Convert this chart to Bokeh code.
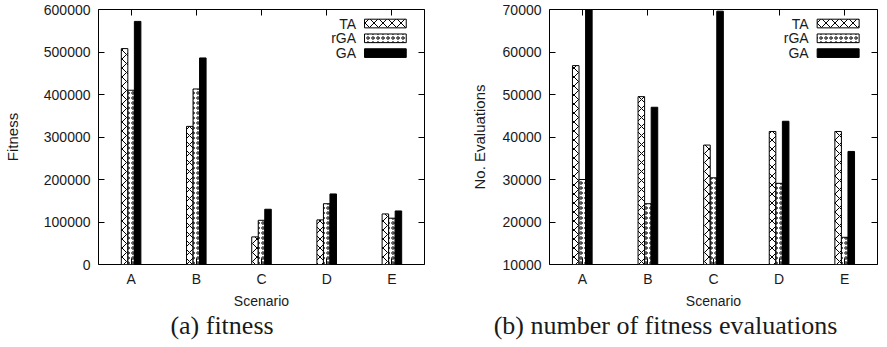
from bokeh.plotting import figure
from bokeh.layouts import row, column
from bokeh.models import (FixedTicker, BasicTickFormatter, LinearAxis, Range1d,
                          BoxAnnotation, Label)
from bokeh.core.properties import value
from bokeh.embed import file_html
from bokeh.resources import INLINE

# Scenarios and algorithms
scenarios = ["A", "B", "C", "D", "E"]
algorithms = ["TA", "rGA", "GA"]

# (a) best fitness reached per scenario
fitness_ta = [508000, 325000, 65000, 105000, 119000]
fitness_rga = [410000, 413000, 104000, 143000, 109000]
fitness_ga = [572000, 486000, 130000, 166000, 126000]

# (b) number of fitness evaluations per scenario
evals_ta = [56800, 49500, 38100, 41300, 41300]
evals_rga = [30000, 24300, 30400, 29100, 16400]
evals_ga = [75000, 47000, 69600, 43700, 36600]

fitness_ticks = [0, 100000, 200000, 300000, 400000, 500000, 600000]
evals_ticks = [10000, 20000, 30000, 40000, 50000, 60000, 70000]

captions = ["(a) fitness", "(b) number of fitness evaluations"]

SANS = "Liberation Sans"
SERIF = "Liberation Serif"
INK = "#1a1a1a"

PLOT_H = 311
CAPTION_H = 36

styles = {
    "TA": dict(fill_color="white", hatch_pattern="diagonal_cross", hatch_color="black",
               hatch_scale=9, hatch_weight=1),
    "rGA": dict(fill_color="white", hatch_pattern="ring", hatch_color="black",
                hatch_scale=5, hatch_weight=1),
    "GA": dict(fill_color="black", hatch_pattern=None),
}


def mirror_axis(ticks):
    # tick marks only, pointing into the frame
    return LinearAxis(ticker=FixedTicker(ticks=ticks),
                      major_label_overrides={t: "" for t in ticks},
                      major_tick_in=6, major_tick_out=0, minor_tick_in=0, minor_tick_out=0,
                      axis_line_color=None, major_label_standoff=0)


def panel(series, ymin, ymax, ticks, ylabel, width, left, right, ylabel_standoff):
    p = figure(width=width, height=PLOT_H, output_backend="svg", toolbar_location=None,
               x_range=Range1d(0.5, len(scenarios) + 0.5), y_range=Range1d(ymin, ymax),
               min_border_left=left, min_border_right=right,
               min_border_top=9, min_border_bottom=47)
    p.xgrid.visible = False
    p.ygrid.visible = False
    p.outline_line_color = "black"
    p.outline_line_width = 1
    p.background_fill_color = "white"
    p.border_fill_color = "white"

    xs = list(range(1, len(scenarios) + 1))
    bw = 0.1
    for k, (name, vals) in enumerate(zip(algorithms, series)):
        off = (k - 1) * bw
        p.vbar(x=[x + off for x in xs], top=vals, bottom=ymin, width=bw,
               line_color="black", line_width=1, **styles[name])

    # axes with inward ticks, mirrored on top and right
    for ax in (p.xaxis[0], p.yaxis[0]):
        ax.major_tick_in = 6
        ax.major_tick_out = 0
        ax.minor_tick_in = 0
        ax.minor_tick_out = 0
        ax.axis_line_color = None
        ax.major_tick_line_color = "black"
        ax.major_label_text_font = SANS
        ax.major_label_text_font_size = "14px"
        ax.major_label_text_color = INK
        ax.axis_label_text_font = SANS
        ax.axis_label_text_font_style = "normal"
        ax.axis_label_text_color = INK

    p.xaxis.ticker = FixedTicker(ticks=xs)
    p.xaxis.major_label_overrides = {x: s for x, s in zip(xs, scenarios)}
    p.xaxis.major_label_standoff = 6
    p.xaxis.axis_label = "Scenario"
    p.xaxis.axis_label_text_font_size = "14px"
    p.xaxis.axis_label_standoff = 3

    p.yaxis.ticker = FixedTicker(ticks=ticks)
    p.yaxis.formatter = BasicTickFormatter(use_scientific=False)
    p.yaxis.major_label_standoff = 8
    p.yaxis.axis_label = ylabel
    p.yaxis.axis_label_text_font_size = "15px"
    p.yaxis.axis_label_standoff = ylabel_standoff

    p.add_layout(mirror_axis(xs), "above")
    p.add_layout(mirror_axis(ticks), "right")

    # legend: label right-aligned, swatch to its right
    span = ymax - ymin
    sw_left, sw_right = 4.58, 5.22
    for k, name in enumerate(algorithms):
        yc = ymax - span * (0.055 + 0.058 * k)
        h = span * 0.034
        p.add_layout(BoxAnnotation(left=sw_left, right=sw_right, bottom=yc - h / 2, top=yc + h / 2,
                                   line_color="black", line_width=1, line_alpha=1,
                                   fill_alpha=1, hatch_alpha=1, **styles[name]))
        p.add_layout(Label(x=sw_left - 0.13, y=yc, text=name, text_align="right",
                           text_baseline="middle", text_font=SANS, text_font_size="14px",
                           text_color=INK))
    return p


def caption_strip(text, width):
    # sub-caption centred under its panel
    c = figure(width=width, height=CAPTION_H, output_backend="svg", toolbar_location=None,
               x_range=Range1d(0, 1), y_range=Range1d(0, 1),
               min_border=0, outline_line_color=None)
    c.axis.visible = False
    c.grid.visible = False
    c.text(x=[0.5], y=[0.62], text=[text], text_align="center", text_baseline="middle",
           text_font=value(SERIF), text_font_size="26px", text_color=INK)
    return c


left = panel([fitness_ta, fitness_rga, fitness_ga], 0, 600000, fitness_ticks,
             "Fitness", 443, 97, 19, 20)
right = panel([evals_ta, evals_rga, evals_ga], 10000, 70000, evals_ticks,
              "No. Evaluations", 444, 106, 10, 12)

layout = column(row(left, right),
                row(caption_strip(captions[0], 443), caption_strip(captions[1], 444)))
open("out.html", "w").write(file_html(layout, INLINE))
